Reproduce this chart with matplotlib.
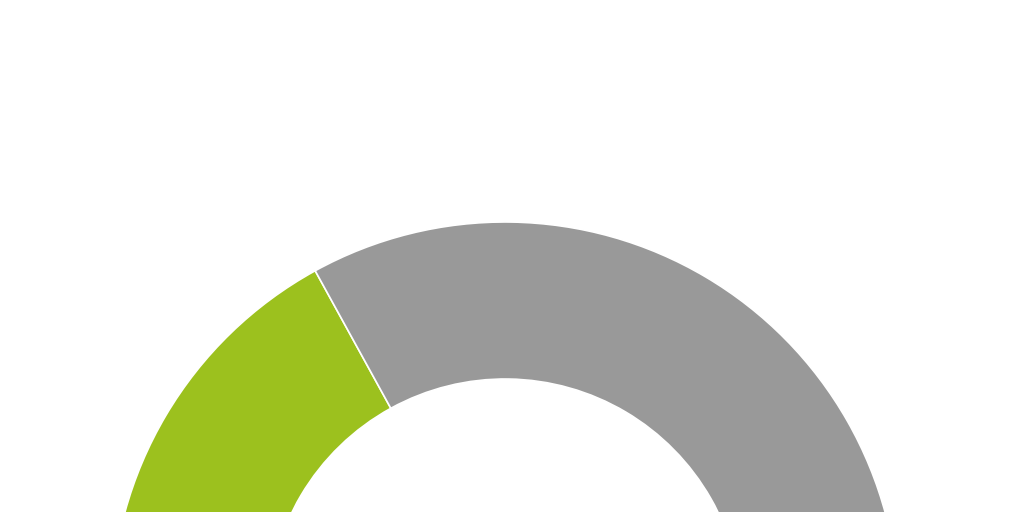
import matplotlib.pyplot as plt

# gauge share values (half donut, hidden lower half)
labels = ['Share', 'Rest']
values = [34, 66]
colors = ['#9cc11e', '#999999']

fig = plt.figure(figsize=(10.24, 5.12), dpi=100)
ax = fig.add_axes([0, 0, 1, 1])
ax.set_xlim(0, 1024)
ax.set_ylim(0, 512)
ax.set_aspect('equal')
ax.axis('off')

total = sum(values)
ax.pie(values + [total], colors=colors + ['none'], startangle=180,
       counterclock=False, center=(505, -104), radius=394,
       wedgeprops=dict(width=157, edgecolor='white', linewidth=1.2),
       frame=True)
ax.set_xlim(0, 1024)
ax.set_ylim(0, 512)
ax.axis('off')

fig.savefig('out.png', dpi=100)
